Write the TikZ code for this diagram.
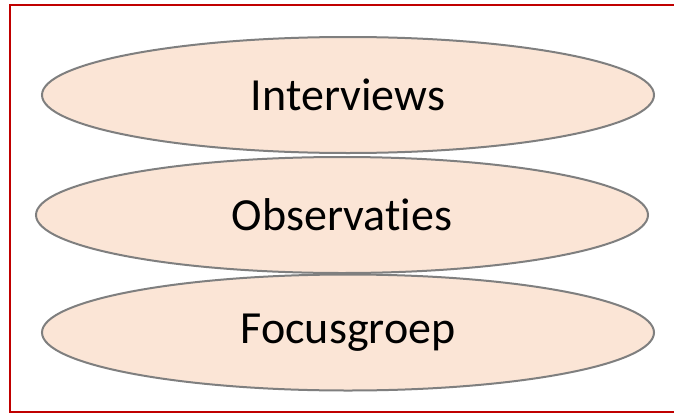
\documentclass[tikz,border=0pt]{standalone}
\usepackage{fontspec}
\setmainfont{Carlito}[Ligatures=CommonOff]
\usetikzlibrary{shapes.geometric}
\definecolor{fillpeach}{HTML}{FBE5D6}
\definecolor{edgegray}{HTML}{7F7F7F}
\definecolor{framered}{HTML}{C00000}
\tikzset{
  oval/.style={ellipse, draw=edgegray, line width=2pt, fill=fillpeach,
    minimum width=612pt, minimum height=116pt, inner sep=0pt,
    font=\fontsize{46}{52}\selectfont, text=black},
  frame/.style={draw=framered, line width=2.4pt}
}
\begin{document}
\begin{tikzpicture}[x=1pt,y=-1pt]
\useasboundingbox (0,0) rectangle (674,415);
\clip (0,0) rectangle (674,415);
\fill[white] (0,0) rectangle (674,415);
\draw[frame] (10,5) rectangle (680,412);
\node[oval] (interviews) at (348,95) {Interviews};
\node[oval] (observaties) at (342,215) {Observaties};
\node[oval] (focusgroep) at (348,332.5) {Focusgroep};
\end{tikzpicture}
\end{document}
